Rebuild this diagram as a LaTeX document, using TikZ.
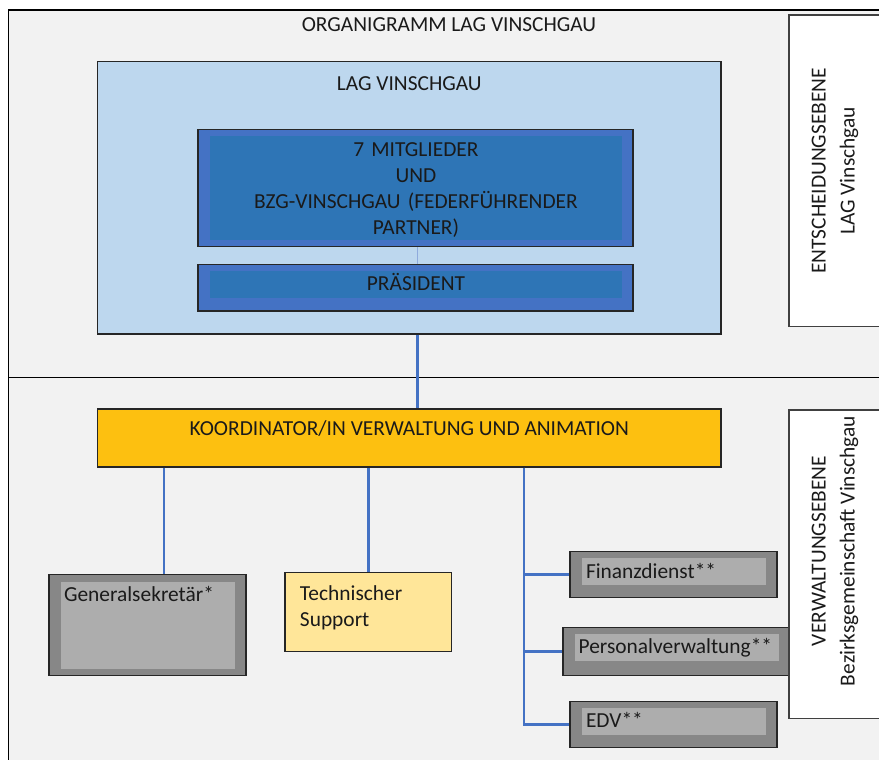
\documentclass[tikz,border=0pt]{standalone}
\usepackage{fontspec}
\setmainfont{Carlito}
\usetikzlibrary{shapes,arrows}
\definecolor{bggray}{HTML}{F2F2F2}
\definecolor{lagblue}{HTML}{BDD7EE}
\definecolor{midblue}{HTML}{4472C4}
\definecolor{deepblue}{HTML}{2E75B6}
\definecolor{thinblue}{HTML}{8FAADC}
\definecolor{koordyellow}{HTML}{FDC010}
\definecolor{techyellow}{HTML}{FFE699}
\definecolor{darkgrey}{HTML}{878787}
\definecolor{lightgrey}{HTML}{ADADAD}
\definecolor{inkgrey}{HTML}{1A1A1A}
\tikzset{%
	panel/.style    = {draw=black!85, line width=1.3pt, rectangle, inner sep=0pt}, % Boxes
	inner/.style    = {rectangle, inner sep=0pt}, % Inner fields
	sidebox/.style  = {draw=black!75, line width=1.3pt, fill=white, rectangle,
		rotate=90, inner sep=0pt, minimum height=92}, % Level labels
	sidetext/.style = {rotate=90, align=center, inner sep=0pt},
	link/.style     = {midblue, line width=2.7pt}, % Connectors
	thinlink/.style = {thinblue, line width=1pt}
}

\begin{document}
\begin{tikzpicture}[x=1pt,y=-1pt,font=\fontsize{21.4}{26}\selectfont,text=inkgrey]
			\useasboundingbox (0,0) rectangle (879,760);
			\clip (0,0) rectangle (879,760);
			\fill[white]   (0,0)  rectangle (879,760);
			\fill[bggray]  (8.3,10) rectangle (890,770);
			\draw[line width=1.3pt] (8.3,770) -- (8.3,10) -- (890,10);
			\draw[line width=1.3pt] (8.3,377.3) -- (890,377.3);

			\node[anchor=base] (title) at (449,31.7) {ORGANIGRAMM LAG VINSCHGAU};

			\node[panel,fill=lagblue,minimum width=623.5,text height=29.3,text depth=243] (lag) at (409.3,197.8) {LAG VINSCHGAU};
			\node[panel,fill=midblue,minimum width=435,minimum height=117.4] (mit)     at (415.5,188) {};
			\node[inner,fill=deepblue,text width=412,align=center,text height=20.7,text depth=83.3] (mitIn) at (416,188)
				{7 MITGLIEDER\\UND\\BZG-VINSCHGAU (FEDERFÜHRENDER\\PARTNER)};
			\node[panel,fill=midblue,minimum width=435,minimum height=46.7] (praes)   at (415.5,287.5) {};
			\node[inner,fill=deepblue,minimum width=412,text height=19,text depth=8] (praesIn) at (416,284.5) {PRÄSIDENT};

			\node[panel,fill=koordyellow,minimum width=623.5,text height=26,text depth=32] (koord) at (409.3,438)
				{KOORDINATOR/IN VERWALTUNG UND ANIMATION};

			\node[panel,fill=darkgrey,minimum width=197,minimum height=100.6] (gen) at (147.5,625) {};
			\node[inner,fill=lightgrey,text width=168,inner xsep=3,align=left,text height=19,text depth=67.7] (genIn) at (148,625.4)
				{Generalsekretär*};
			\node[panel,fill=techyellow,text width=136.7,inner xsep=15,align=left,text height=27.3,text depth=51.3] (tech) at (368.3,612)
				{Technischer\\Support};

			\node[panel,fill=darkgrey,minimum width=207,minimum height=46] (fin) at (673.5,574.7) {};
			\node[inner,fill=lightgrey,text width=176,inner xsep=4,align=left,text height=19.7,text depth=6.7] (finIn) at (674,571.5)
				{Finanzdienst**};
			\node[panel,fill=darkgrey,minimum width=227,minimum height=48.4] (pers) at (676.5,651.5) {};
			\node[inner,fill=lightgrey,text width=196.6,inner xsep=3.7,align=left,text height=19,text depth=7.7] (persIn) at (677,647.4)
				{Personalverwaltung**};
			\node[panel,fill=darkgrey,minimum width=207,minimum height=45.6] (edv) at (673.5,724.5) {};
			\node[inner,fill=lightgrey,text width=176,inner xsep=4,align=left,text height=19,text depth=7.7] (edvIn) at (674,721.4)
				{EDV**};

			\node[sidebox,minimum width=311.7,align=center] (ent) at (835,170.9)
				{ENTSCHEIDUNGSEBENE\\[3pt]LAG Vinschgau};
			\node[sidebox,minimum width=308.3] (verw) at (835,564.2) {};
			\node[sidetext] (verwText) at (835,551)
				{VERWALTUNGSEBENE\\[3pt]Bezirksgemeinschaft Vinschgau};

			\draw[thinlink] ([xshift=2]mit.south) -- ([xshift=2]praes.north);
			\draw[link] ([xshift=8]lag.south) -- ([xshift=8]koord.north);
			\draw[link] ([xshift=16.5]gen.north |- koord.south) -- ([xshift=16.5]gen.north);
			\draw[link] (tech.north |- koord.south) -- (tech.north);
			\draw[link] ([xshift=114.7]koord.south) |- (fin.west);
			\draw[link] ([xshift=114.7]koord.south) |- (pers.west);
			\draw[link] ([xshift=114.7]koord.south) |- (edv.west);
		\end{tikzpicture}
\end{document}
